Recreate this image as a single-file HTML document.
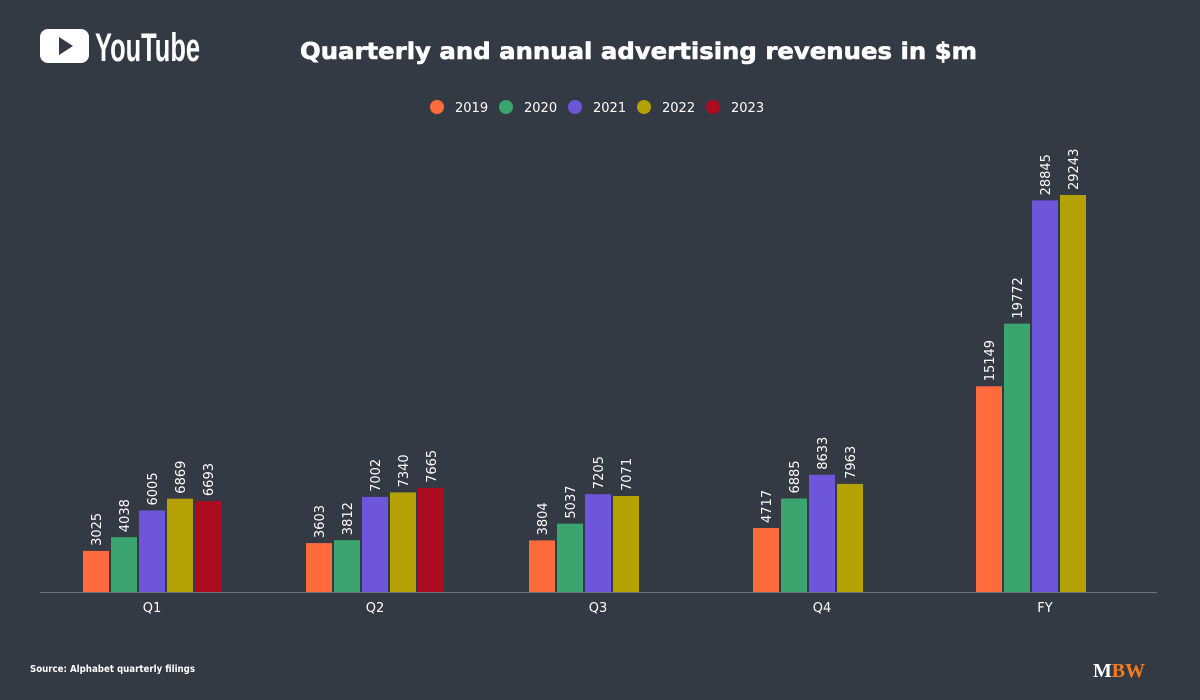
<!DOCTYPE html>
<html><head><meta charset="utf-8"><style>
body{margin:0;width:1200px;height:700px;background:#343a43;overflow:hidden}
svg{display:block}
text{font-family:"DejaVu Sans","Liberation Sans",sans-serif}
</style></head><body>
<svg width="1200" height="700" viewBox="0 0 1200 700">
<rect width="1200" height="700" fill="#343a43"/>
<rect x="40" y="29" width="49" height="34" rx="8" fill="#fff"/>
<polygon points="59,37 59,55 73,46" fill="#343a43"/>
<text x="95" y="61" font-size="40" font-weight="bold" fill="#fff" textLength="105" lengthAdjust="spacingAndGlyphs" style="font-family:'Liberation Sans Narrow','Liberation Sans',sans-serif">YouTube</text>
<text x="300" y="59" font-size="23" font-weight="bold" fill="#fff" textLength="677" lengthAdjust="spacingAndGlyphs" stroke="#fff" stroke-width="0.6">Quarterly and annual advertising revenues in $m</text>
<g font-size="13" fill="#fff">
<circle cx="437" cy="107" r="7" fill="#ff6b3d"/><text x="455" y="112">2019</text>
<circle cx="506" cy="107" r="7" fill="#3aa56f"/><text x="524" y="112">2020</text>
<circle cx="575" cy="107" r="7" fill="#6e56db"/><text x="593" y="112">2021</text>
<circle cx="644" cy="107" r="7" fill="#b3a106"/><text x="662" y="112">2022</text>
<circle cx="713" cy="107" r="7" fill="#ad0b1f"/><text x="731" y="112">2023</text>
</g>
<g id="bars"></g>
<line x1="40" y1="592.5" x2="1157" y2="592.5" stroke="#6b7079" stroke-width="1"/>
<g font-size="13" fill="#fff" text-anchor="middle">
<text x="152" y="612">Q1</text><text x="375" y="612">Q2</text><text x="598" y="612">Q3</text><text x="822" y="612">Q4</text><text x="1045" y="612">FY</text>
</g>
<text x="30" y="672" font-size="10" font-weight="bold" fill="#fff" textLength="165" lengthAdjust="spacingAndGlyphs">Source: Alphabet quarterly filings</text>
<text x="1093" y="677" font-size="20" font-weight="bold" fill="#fff" textLength="52" lengthAdjust="spacingAndGlyphs" style="font-family:'Liberation Serif',serif">M<tspan fill="#f47b20">BW</tspan></text>
</svg>
<script>
var data=[[3025,4038,6005,6869,6693],[3603,3812,7002,7340,7665],[3804,5037,7205,7071],[4717,6885,8633,7963],[15149,19772,28845,29243]];
var cols=["#ff6b3d","#3aa56f","#6e56db","#b3a106","#ad0b1f"];
var centers=[152,375,598,822,1045];var s='';var k=397/29243;
data.forEach(function(g,i){g.forEach(function(v,j){var x=centers[i]-69+j*28;var h=v*k;var y=592-h;
s+='<rect x="'+x+'" y="'+y.toFixed(1)+'" width="26" height="'+h.toFixed(1)+'" fill="'+cols[j]+'"/>';
s+='<text transform="translate('+(x+18)+','+(y-5).toFixed(1)+') rotate(-90)" font-size="13" fill="#fff">'+v+'</text>';});});
document.getElementById('bars').innerHTML=s;
</script>
</body></html>
